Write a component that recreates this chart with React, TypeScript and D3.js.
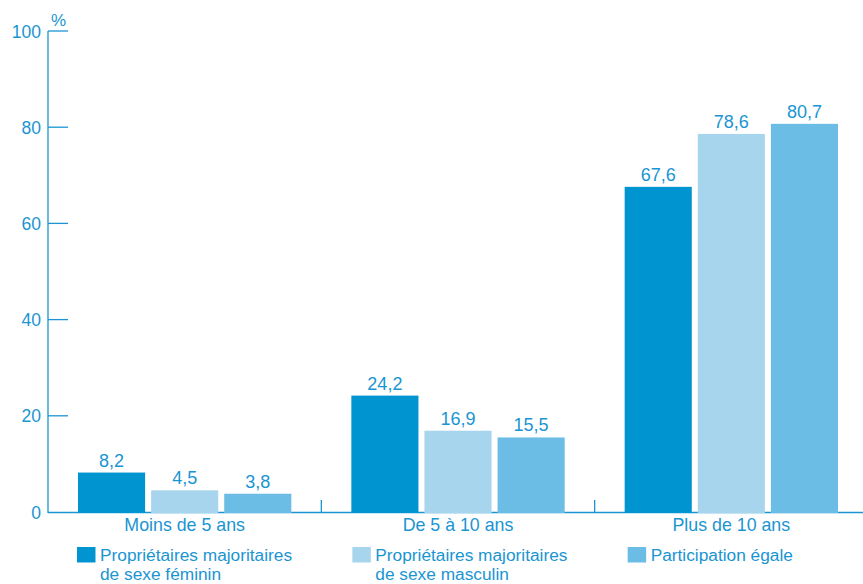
import React from "react";
import * as d3 from "d3";

const categories = ["Moins de 5 ans", "De 5 à 10 ans", "Plus de 10 ans"];
const seriesNames = [
  ["Propriétaires majoritaires", "de sexe féminin"],
  ["Propriétaires majoritaires", "de sexe masculin"],
  ["Participation égale"],
];
const seriesKeys = ["fem", "masc", "egal"];
const femValues = [8.2, 24.2, 67.6];
const mascValues = [4.5, 16.9, 78.6];
const egalValues = [3.8, 15.5, 80.7];
const yTicks = [0, 20, 40, 60, 80, 100];

const colors = ["#0095d0", "#a8d5ee", "#6cbde5"];
const textColor = "#1a95d2";
const FONT = "'Liberation Sans', Arial, sans-serif";

export default function App() {
  const W = 863;
  const H = 584;
  const x0 = 48;
  const yScale = d3.scaleLinear().domain([0, 100]).range([512, 31]);
  const xBand = d3.scaleBand<string>().domain(categories).range([x0, 868]).padding(0);
  const bw = xBand.bandwidth();
  const inner = d3
    .scaleBand<string>()
    .domain(seriesKeys)
    .range([30, bw - 30])
    .paddingInner(0.082)
    .paddingOuter(0);
  const allValues = [femValues, mascValues, egalValues];
  const fmt = (v: number) => v.toFixed(1).replace(".", ",");

  return (
    <svg
      width={W}
      height={H}
      style={{ position: "absolute", left: 0, top: 0, background: "#fff" }}
      fontFamily={FONT}
    >
      {/* x axis line */}
      <line x1={x0} x2={W} y1={yScale(0) + 0.5} y2={yScale(0) + 0.5} stroke={textColor} strokeWidth={1.3} />
      {/* category separators */}
      {categories.slice(1).map((c) => (
        <line
          key={c}
          x1={xBand(c)!}
          x2={xBand(c)!}
          y1={yScale(0)}
          y2={yScale(0) - 12}
          stroke={textColor}
          strokeWidth={1.3}
        />
      ))}
      {/* y axis */}
      <line x1={x0} x2={x0} y1={yScale(100)} y2={yScale(0) + 1} stroke={textColor} strokeWidth={1.3} />
      {yTicks.map((t) => (
        <g key={t}>
          {t > 0 && (
            <line x1={x0} x2={x0 + 20} y1={yScale(t)} y2={yScale(t)} stroke={textColor} strokeWidth={1.3} />
          )}
          <text x={41} y={yScale(t) + 6.5} textAnchor="end" fontSize={17.5} fill={textColor}>
            {t}
          </text>
        </g>
      ))}
      <text x={51} y={25.5} fontSize={17} fill={textColor}>
        %
      </text>
      {/* bars */}
      {categories.map((c, ci) =>
        seriesKeys.map((k, si) => {
          const v = allValues[si][ci];
          const bx = xBand(c)! + inner(k)!;
          const w = inner.bandwidth();
          return (
            <g key={c + k}>
              <rect
                x={bx}
                y={yScale(v)}
                width={w}
                height={yScale(0) + 1 - yScale(v)}
                fill={colors[si]}
              />
              <text
                x={bx + w / 2}
                y={yScale(v) - 6}
                textAnchor="middle"
                fontSize={18}
                fill={textColor}
              >
                {fmt(v)}
              </text>
            </g>
          );
        })
      )}
      {/* category labels */}
      {categories.map((c) => (
        <text
          key={c}
          x={xBand(c)! + bw / 2}
          y={530.5}
          textAnchor="middle"
          fontSize={17.8}
          fill={textColor}
        >
          {c}
        </text>
      ))}
      {/* legend */}
      {seriesNames.map((lines, si) => {
        const lx = xBand(categories[si])! + 29 + si * 2;
        return (
          <g key={si}>
            <rect x={lx} y={547} width={18.5} height={15.5} fill={colors[si]} />
            {lines.map((ln, li) => (
              <text key={li} x={lx + 23} y={561 + li * 18.5} fontSize={17.3} fill={textColor}>
                {ln}
              </text>
            ))}
          </g>
        );
      })}
    </svg>
  );
}
